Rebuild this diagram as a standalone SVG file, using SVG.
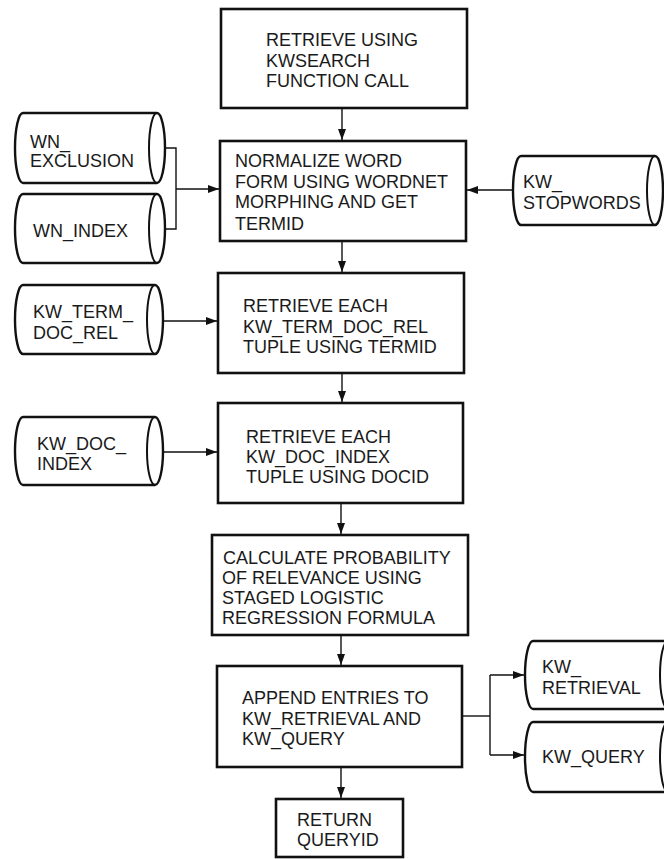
<svg xmlns="http://www.w3.org/2000/svg" width="664" height="859" viewBox="0 0 664 859">
  <style>
    .box { fill: #fff; stroke: #111; stroke-width: 2.6; }
    .cyl { fill: #fff; stroke: #111; stroke-width: 2.4; stroke-linejoin: round; }
    .cyl-end { fill: none; stroke: #111; stroke-width: 2; }
    .conn { fill: none; stroke: #111; stroke-width: 1.4; }
    text { font-family: "Liberation Sans", Arial, Helvetica, sans-serif; font-size: 18px; fill: #1a1a1a; }
  </style>
  <defs>
    <marker id="arrow" markerUnits="userSpaceOnUse" markerWidth="11" markerHeight="8" refX="11" refY="4" orient="auto">
      <path d="M0,0 L11,4 L0,8 Z" fill="#111"/>
    </marker>
  </defs>
  <rect width="664" height="859" fill="#fff"/>

  <!-- process steps -->
  <g id="retrieve-kwsearch">
    <rect class="box" x="221" y="9" width="246" height="99"/>
    <text x="266" y="46">RETRIEVE USING</text>
    <text x="266" y="67">KWSEARCH</text>
    <text x="266" y="87">FUNCTION CALL</text>
  </g>
  <g id="normalize">
    <rect class="box" x="220" y="141" width="246" height="100"/>
    <text x="235" y="167">NORMALIZE WORD</text>
    <text x="235" y="188">FORM USING WORDNET</text>
    <text x="235" y="208">MORPHING AND GET</text>
    <text x="235" y="230">TERMID</text>
  </g>
  <g id="retrieve-term-doc-rel">
    <rect class="box" x="218" y="273" width="246" height="100"/>
    <text x="243" y="312">RETRIEVE EACH</text>
    <text x="243" y="333">KW_TERM_DOC_REL</text>
    <text x="243" y="353">TUPLE USING TERMID</text>
  </g>
  <g id="retrieve-doc-index">
    <rect class="box" x="218" y="403" width="245" height="100"/>
    <text x="246" y="443">RETRIEVE EACH</text>
    <text x="246" y="463">KW_DOC_INDEX</text>
    <text x="246" y="483">TUPLE USING DOCID</text>
  </g>
  <g id="calculate">
    <rect class="box" x="212" y="535" width="256" height="100"/>
    <text x="223" y="564">CALCULATE PROBABILITY</text>
    <text x="222" y="584">OF RELEVANCE USING</text>
    <text x="222" y="604">STAGED LOGISTIC</text>
    <text x="222" y="624">REGRESSION FORMULA</text>
  </g>
  <g id="append">
    <rect class="box" x="217" y="666" width="245" height="101"/>
    <text x="242" y="704">APPEND ENTRIES TO</text>
    <text x="242" y="725">KW_RETRIEVAL AND</text>
    <text x="242" y="745">KW_QUERY</text>
  </g>
  <g id="return">
    <rect class="box" x="276" y="799" width="127" height="58"/>
    <text x="297" y="826">RETURN</text>
    <text x="297" y="846">QUERYID</text>
  </g>

  <!-- data stores (horizontal cylinders) -->
  <g id="wn-exclusion">
    <path class="cyl" d="M23,113 L157,113 A8,35 0 0 1 157,183 L23,183 A8,35 0 0 1 23,113 Z"/>
    <path class="cyl-end" d="M157,113 A8,35 0 0 0 157,183"/>
    <text x="30" y="148">WN_</text>
    <text x="30" y="167">EXCLUSION</text>
  </g>
  <g id="wn-index">
    <path class="cyl" d="M23,194 L157,194 A8,34.5 0 0 1 157,263 L23,263 A8,34.5 0 0 1 23,194 Z"/>
    <path class="cyl-end" d="M157,194 A8,34.5 0 0 0 157,263"/>
    <text x="33" y="237">WN_INDEX</text>
  </g>
  <g id="kw-term-doc-rel">
    <path class="cyl" d="M23,285 L155,285 A8,34.5 0 0 1 155,354 L23,354 A8,34.5 0 0 1 23,285 Z"/>
    <path class="cyl-end" d="M155,285 A8,34.5 0 0 0 155,354"/>
    <text x="33" y="318">KW_TERM_</text>
    <text x="33" y="339">DOC_REL</text>
  </g>
  <g id="kw-doc-index">
    <path class="cyl" d="M23,417 L155,417 A8,34 0 0 1 155,485 L23,485 A8,34 0 0 1 23,417 Z"/>
    <path class="cyl-end" d="M155,417 A8,34 0 0 0 155,485"/>
    <text x="37" y="450">KW_DOC_</text>
    <text x="37" y="470">INDEX</text>
  </g>
  <g id="kw-stopwords">
    <path class="cyl" d="M521,156 L655,156 A8,34.5 0 0 1 655,225 L521,225 A8,34.5 0 0 1 521,156 Z"/>
    <path class="cyl-end" d="M655,156 A8,34.5 0 0 0 655,225"/>
    <text x="523" y="188">KW_</text>
    <text x="523" y="209">STOPWORDS</text>
  </g>
  <g id="kw-retrieval">
    <path class="cyl" d="M533,641 L668,641 A8,34 0 0 1 668,709 L533,709 A8,34 0 0 1 533,641 Z"/>
    <path class="cyl-end" d="M668,641 A8,34 0 0 0 668,709"/>
    <text x="542" y="673">KW_</text>
    <text x="542" y="694">RETRIEVAL</text>
  </g>
  <g id="kw-query">
    <path class="cyl" d="M533,722 L668,722 A8,35 0 0 1 668,792 L533,792 A8,35 0 0 1 533,722 Z"/>
    <path class="cyl-end" d="M668,722 A8,35 0 0 0 668,792"/>
    <text x="542" y="763">KW_QUERY</text>
  </g>

  <!-- connectors -->
  <g id="connectors">
    <path class="conn" d="M342,108 V140" marker-end="url(#arrow)"/>
    <path class="conn" d="M165,148 H176 V229 H165"/>
    <path class="conn" d="M176,189 H219" marker-end="url(#arrow)"/>
    <path class="conn" d="M513,190 H467" marker-end="url(#arrow)"/>
    <path class="conn" d="M342,241 V272" marker-end="url(#arrow)"/>
    <path class="conn" d="M163,321 H217" marker-end="url(#arrow)"/>
    <path class="conn" d="M342,373 V402" marker-end="url(#arrow)"/>
    <path class="conn" d="M163,452 H217" marker-end="url(#arrow)"/>
    <path class="conn" d="M341,503 V534" marker-end="url(#arrow)"/>
    <path class="conn" d="M341,635 V665" marker-end="url(#arrow)"/>
    <path class="conn" d="M341,767 V798" marker-end="url(#arrow)"/>
    <path class="conn" d="M462,716 H490"/>
    <path class="conn" d="M490,675 V755"/>
    <path class="conn" d="M490,675 H524" marker-end="url(#arrow)"/>
    <path class="conn" d="M490,755 H524" marker-end="url(#arrow)"/>
  </g>
</svg>
